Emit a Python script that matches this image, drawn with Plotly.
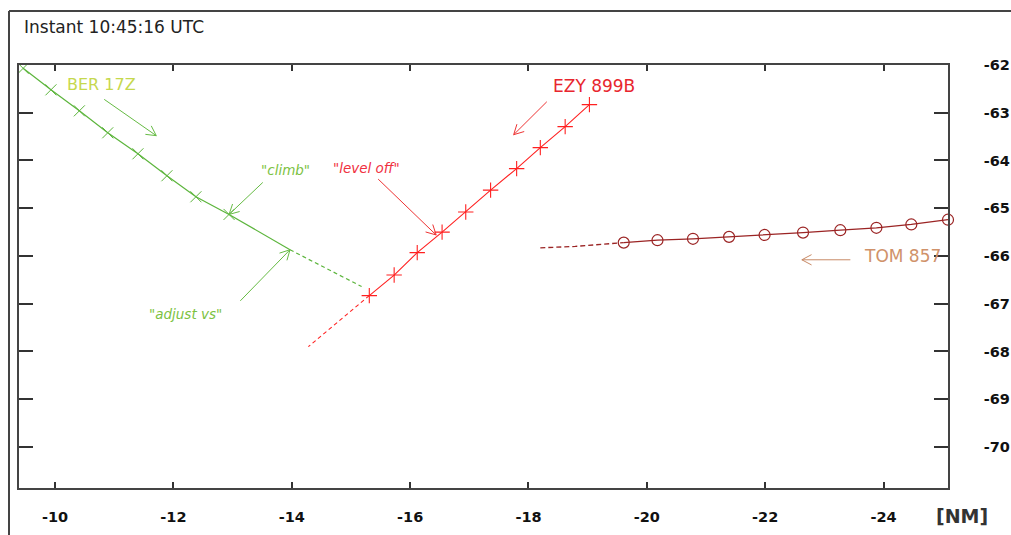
import plotly.graph_objects as go
import math

# ---------------- data ----------------
ber_x = [-9.46, -9.93, -10.41, -10.89, -11.40, -11.89, -12.38, -12.94]
ber_y = [-62.07, -62.52, -62.96, -63.42, -63.86, -64.32, -64.76, -65.13]
ber_solid_x = [-12.94, -13.97]
ber_solid_y = [-65.13, -65.87]
ber_dash_x = [-13.97, -15.18]
ber_dash_y = [-65.87, -66.64]

ezy_x = [-19.03, -18.62, -18.20, -17.80, -17.36, -16.94, -16.54, -16.12, -15.73, -15.31]
ezy_y = [-62.83, -63.29, -63.73, -64.17, -64.62, -65.08, -65.50, -65.93, -66.40, -66.83]
ezy_dash_x = [-15.31, -14.28]
ezy_dash_y = [-66.83, -67.90]

tom_x = [-19.61, -20.18, -20.78, -21.39, -21.99, -22.64, -23.27, -23.88, -24.47, -25.09]
tom_y = [-65.72, -65.67, -65.64, -65.60, -65.56, -65.51, -65.46, -65.41, -65.34, -65.24]
tom_dash_x = [-18.20, -18.79, -19.61]
tom_dash_y = [-65.83, -65.80, -65.72]

x_ticks = [-10, -12, -14, -16, -18, -20, -22, -24]
y_ticks = [-62, -63, -64, -65, -66, -67, -68, -69, -70]

title_text = "Instant 10:45:16 UTC"
unit_text = "[NM]"

# labels: text, x, y, colour, italic
label_text = ["BER 17Z", "EZY 899B", "TOM 857", "\"climb\"", "\"level off\"", "\"adjust vs\""]
label_x = [-10.79, -19.11, -24.32, -13.89, -15.26, -12.21]
label_y = [-62.40, -62.44, -66.00, -64.20, -64.16, -67.22]
label_color = ["#c6d84e", "#e8262e", "#d0926a", "#7cc242", "#f03040", "#7cc242"]
label_italic = [False, False, False, True, True, True]
label_size = [16, 17, 17, 13.5, 13.5, 13.5]

# arrows: tail -> tip
arrow_tail_x = [-10.83, -13.51, -13.13, -15.46, -18.31, -23.44]
arrow_tail_y = [-62.72, -64.46, -66.94, -64.39, -62.77, -66.08]
arrow_tip_x = [-11.71, -12.94, -13.97, -16.44, -17.75, -22.62]
arrow_tip_y = [-63.48, -65.13, -65.87, -65.56, -63.46, -66.08]
arrow_color = ["#66bb44", "#66bb44", "#66bb44", "#ee3333", "#ee3333", "#c88a66"]

# ---------------- layout geometry ----------------
W, H = 1011, 535
ML, MR, MT, MB = 19, 63, 65, 47
XR = [-9.39, -25.09]
YR = [-70.86, -62.0]
PW, PH = W - ML - MR, H - MT - MB

GREEN = "#5cb53c"
RED = "#ff2020"
MAROON = "#9b2424"

fig = go.Figure()

# BER 17Z
fig.add_trace(go.Scatter(x=ber_dash_x, y=ber_dash_y, mode="lines",
                         line=dict(color=GREEN, width=1.2, dash="4px,3px"), showlegend=False))
fig.add_trace(go.Scatter(x=ber_solid_x, y=ber_solid_y, mode="lines",
                         line=dict(color=GREEN, width=1.2), showlegend=False))
fig.add_trace(go.Scatter(x=ber_x, y=ber_y, mode="lines+markers",
                         line=dict(color=GREEN, width=1.2),
                         marker=dict(symbol="x-thin-open", size=11, line=dict(color=GREEN, width=1)),
                         showlegend=False))
# EZY 899B
fig.add_trace(go.Scatter(x=ezy_dash_x, y=ezy_dash_y, mode="lines",
                         line=dict(color=RED, width=1.1, dash="4px,3px"), showlegend=False))
fig.add_trace(go.Scatter(x=ezy_x, y=ezy_y, mode="lines+markers",
                         line=dict(color=RED, width=1.1),
                         marker=dict(symbol="cross-thin-open", size=11, line=dict(color=RED, width=1.1)),
                         showlegend=False))
# TOM 857
fig.add_trace(go.Scatter(x=tom_dash_x, y=tom_dash_y, mode="lines",
                         line=dict(color=MAROON, width=1.3, dash="5px,3px"), showlegend=False))
fig.add_trace(go.Scatter(x=tom_x, y=tom_y, mode="lines+markers",
                         line=dict(color=MAROON, width=1.3),
                         marker=dict(symbol="circle-open", size=11, line=dict(color=MAROON, width=1.2)),
                         showlegend=False, cliponaxis=False))

# labels
for t, x, y, c, it, s in zip(label_text, label_x, label_y, label_color, label_italic, label_size):
    fig.add_annotation(x=x, y=y, xref="x", yref="y", text=("<i>%s</i>" % t) if it else t,
                       showarrow=False, font=dict(family="DejaVu Sans", size=s, color=c),
                       xanchor="center", yanchor="middle")

# arrows with open chevron heads (computed in pixel space)
def to_px(x, y):
    px = (x - XR[0]) / (XR[1] - XR[0]) * PW
    py = (y - YR[0]) / (YR[1] - YR[0]) * PH
    return px, py

def to_data(px, py):
    return XR[0] + px / PW * (XR[1] - XR[0]), YR[0] + py / PH * (YR[1] - YR[0])

for tx, ty, hx, hy, c in zip(arrow_tail_x, arrow_tail_y, arrow_tip_x, arrow_tip_y, arrow_color):
    p0 = to_px(tx, ty)
    p1 = to_px(hx, hy)
    ang = math.atan2(p1[1] - p0[1], p1[0] - p0[0])
    L = 11
    wings = []
    for da in (math.radians(28), -math.radians(28)):
        a = ang + math.pi + da
        wings.append(to_data(p1[0] + L * math.cos(a), p1[1] + L * math.sin(a)))
    path = "M %f,%f L %f,%f M %f,%f L %f,%f L %f,%f" % (
        tx, ty, hx, hy, wings[0][0], wings[0][1], hx, hy, wings[1][0], wings[1][1])
    fig.add_shape(type="path", path=path, xref="x", yref="y", line=dict(color=c, width=1))

# outer frame
fx = (9 - ML) / PW
fy = 1 + (MT - 11) / PH
fig.add_shape(type="line", xref="paper", yref="paper", x0=fx, x1=fx, y0=fy, y1=-MB / PH - 0.01,
              line=dict(color="#444444", width=2))
fig.add_shape(type="line", xref="paper", yref="paper", x0=fx, x1=(W - ML) / PW + 0.01, y0=fy, y1=fy,
              line=dict(color="#444444", width=2))

# title
fig.add_annotation(xref="paper", yref="paper", x=(22 - ML) / PW, y=1 + (MT - 27) / PH,
                   text=title_text, showarrow=False, xanchor="left", yanchor="middle",
                   font=dict(family="DejaVu Sans", size=17, color="#222222"))
# unit
fig.add_annotation(xref="paper", yref="paper", x=(962 - ML) / PW, y=-(516 - (H - MB)) / PH,
                   text="<b>%s</b>" % unit_text, showarrow=False, xanchor="center", yanchor="middle",
                   font=dict(family="DejaVu Sans", size=19, color="#333333"))

tickfont = dict(family="DejaVu Sans", size=14.5, color="#111111", weight="bold")

fig.update_layout(
    width=W, height=H, margin=dict(l=ML, r=MR, t=MT, b=MB, autoexpand=False),
    paper_bgcolor="white", plot_bgcolor="white",
    xaxis=dict(range=XR, tickvals=x_ticks, ticktext=[str(v) for v in x_ticks], automargin=False,
               ticks="inside", ticklen=6, tickcolor="#333333", tickwidth=1.5,
               showline=True, mirror="ticks", linecolor="#444444", linewidth=1.5,
               showgrid=False, zeroline=False, tickfont=tickfont, ticklabelstandoff=15),
    yaxis=dict(range=YR, tickvals=y_ticks, ticktext=[str(v) for v in y_ticks], side="right",
               automargin=False,
               ticks="inside", ticklen=14, tickcolor="#333333", tickwidth=1.5,
               showline=True, mirror="ticks", linecolor="#444444", linewidth=1.5,
               showgrid=False, zeroline=False, tickfont=tickfont, ticklabelstandoff=31),
)

fig.write_html("out.html")
